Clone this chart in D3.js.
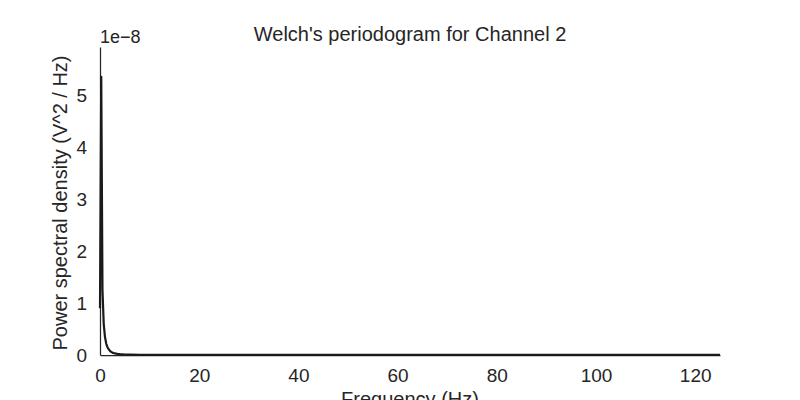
<!DOCTYPE html>
<html><head><meta charset="utf-8">
<script src="https://cdn.jsdelivr.net/npm/d3@7/dist/d3.min.js"></script>
<style>body{margin:0;background:#fff;} text{font-family:"Liberation Sans",Arial,sans-serif;fill:#262626;}</style>
</head><body><svg id="c" width="800" height="400"></svg>
<script>
const freqs = [0, 0.25, 0.5, 0.75, 1.0, 1.25, 1.5, 1.75, 2.0, 2.25, 2.5, 3.0, 3.5, 4.0, 5.0, 6.0, 8.0, 10, 15, 20, 30, 40, 50, 60, 70, 80, 90, 100, 110, 120, 125];
const psd = [0.9, 5.35, 1.25, 0.6, 0.35, 0.22, 0.15, 0.11, 0.08, 0.06, 0.045, 0.03, 0.022, 0.016, 0.01, 0.007, 0.005, 0.004, 0.003, 0.0025, 0.002, 0.002, 0.0018, 0.0018, 0.0016, 0.0015, 0.0015, 0.0014, 0.0014, 0.0013, 0.0013];
const xTicks = [0, 20, 40, 60, 80, 100, 120];
const yTicks = [0, 1, 2, 3, 4, 5];
const title = "Welch's periodogram for Channel 2";
const xLabel = "Frequency (Hz)";
const yLabel = "Power spectral density (V^2 / Hz)";
const offsetText = "1e\u22128";

const svg = d3.select("#c");
const L = 100, R = 720, T = 47, B = 355;
const x = d3.scaleLinear().domain([0, 125]).range([L, R]);
const y = d3.scaleLinear().domain([0, 5.923]).range([B, T]);

const gx = svg.append("g").attr("transform", `translate(0,${B})`)
  .call(d3.axisBottom(x).tickValues(xTicks).tickSize(0).tickPadding(14).tickFormat(d3.format("d")));
const gy = svg.append("g").attr("transform", `translate(${L},0)`)
  .call(d3.axisLeft(y).tickValues(yTicks).tickSize(0).tickPadding(13).tickFormat(d3.format("d")));
[gx, gy].forEach(g => {
  g.attr("font-size", null).attr("font-family", null);
  g.select(".domain").attr("stroke", "#262626").attr("stroke-width", 1.25);
  g.selectAll("text").style("font-size", "19px").attr("fill", "#262626");
});

const data = freqs.map((f, i) => [f, psd[i]]);
svg.append("path").datum(data)
  .attr("fill", "none").attr("stroke", "#1a1a1a").attr("stroke-width", 2.2)
  .attr("stroke-linejoin", "round")
  .attr("d", d3.line().x(d => x(d[0])).y(d => y(d[1])));

svg.append("text").attr("x", (L + R) / 2).attr("y", 41).attr("text-anchor", "middle")
  .style("font-size", "20px").text(title);
svg.append("text").attr("x", L).attr("y", 43).style("font-size", "18px").text(offsetText);
svg.append("text").attr("x", (L + R) / 2).attr("y", 406).attr("text-anchor", "middle")
  .style("font-size", "20px").text(xLabel);
svg.append("text").attr("transform", `translate(67,203) rotate(-90)`)
  .attr("text-anchor", "middle").style("font-size", "20px").text(yLabel);
</script></body></html>
